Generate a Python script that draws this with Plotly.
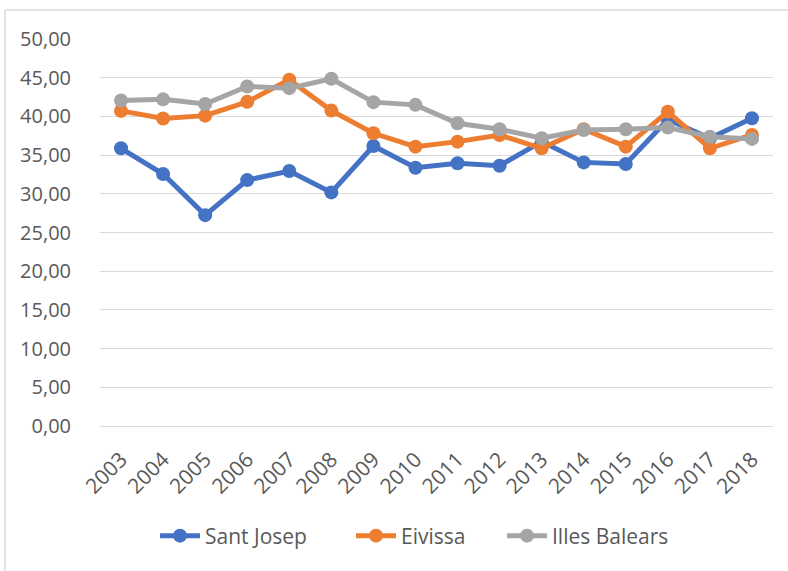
import plotly.graph_objects as go

years = [str(y) for y in range(2003, 2019)]
sant_josep = [35.88, 32.55, 27.24, 31.77, 32.94, 30.18, 36.18, 33.37,
              33.94, 33.63, 36.74, 34.06, 33.85, 39.6, 37.17, 39.77]
eivissa = [40.71, 39.72, 40.1, 41.88, 44.73, 40.75, 37.82, 36.09,
           36.74, 37.6, 35.88, 38.34, 36.09, 40.6, 35.88, 37.6]
illes_balears = [42.05, 42.2, 41.6, 43.86, 43.65, 44.86, 41.84, 41.49,
                 39.12, 38.34, 37.17, 38.25, 38.34, 38.55, 37.38, 37.09]

series = [
    ("Sant Josep", sant_josep, "#4472C4", "legend"),
    ("Eivissa", eivissa, "#ED7D31", "legend2"),
    ("Illes Balears", illes_balears, "#A5A5A5", "legend3"),
]

font = "Open Sans"
fig = go.Figure()
for name, vals, col, leg in series:
    fig.add_trace(go.Scatter(
        x=years, y=vals, name=name, mode="lines+markers",
        line=dict(color=col, width=5),
        marker=dict(color=col, size=14),
        legend=leg,
    ))

PL, PR, PT, PB = 100, 773, 39, 426
pw, ph = PR - PL, PB - PT

def px(x):
    return (x - PL) / pw

def py(y):
    return (PB - y) / ph

def leg(xpix):
    return dict(orientation="h", x=px(xpix), xanchor="left", y=py(536),
                yanchor="middle", font=dict(size=21, color="#595959"),
                itemwidth=40, bgcolor="rgba(0,0,0,0)")

fig.update_layout(
    width=788, height=571,
    margin=dict(l=PL, r=788 - PR, t=PT, b=571 - PB),
    paper_bgcolor="white", plot_bgcolor="white",
    separators=",.",
    font=dict(family=font, size=19, color="#595959"),
    showlegend=True,
    legend=leg(155),
    legend2=leg(351),
    legend3=leg(502),
    xaxis=dict(type="category", range=[-0.5, 15.5], tickangle=-45,
               showgrid=False, showline=False, ticks="",
               tickfont=dict(size=21, color="#595959"),
               ticklabelstandoff=16),
    yaxis=dict(range=[0, 50], dtick=5, tickformat=".2f",
               showgrid=True, gridcolor="#D9D9D9", gridwidth=1.3,
               zeroline=True, zerolinecolor="#D9D9D9", zerolinewidth=1.3,
               showline=False, ticks="",
               tickfont=dict(size=20, color="#595959"),
               ticklabelstandoff=28),
    shapes=[
        dict(type="line", xref="paper", yref="paper",
             x0=px(5), x1=px(790), y0=py(10), y1=py(10),
             line=dict(color="#D9D9D9", width=1.5)),
        dict(type="line", xref="paper", yref="paper",
             x0=px(5), x1=px(5), y0=py(10), y1=py(575),
             line=dict(color="#D9D9D9", width=1.5)),
    ],
)

fig.write_html("out.html", config={"displayModeBar": False},
               post_script="document.body.style.margin='0';document.body.style.padding='0';")
